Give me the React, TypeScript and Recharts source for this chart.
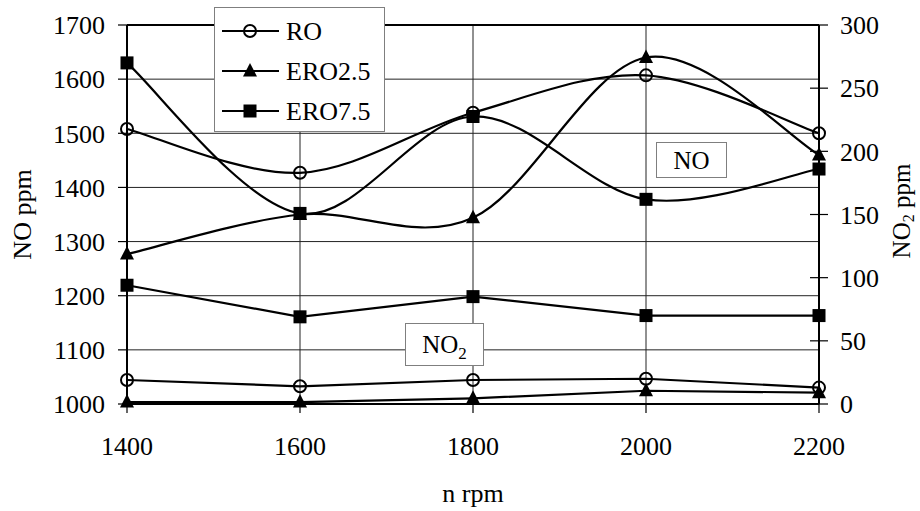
import React from 'react';
import { LineChart, Line, XAxis, YAxis, CartesianGrid, Legend, Label, ReferenceLine } from 'recharts';

const rpm = [1400, 1600, 1800, 2000, 2200];

// NO, ppm (left axis)
const noRO = [1508, 1427, 1538, 1607, 1500];
const noERO25 = [1277, 1350, 1344, 1640, 1460];
const noERO75 = [1630, 1352, 1531, 1378, 1434];

// NO2, ppm (right axis)
const no2RO = [19, 14, 19, 20, 13];
const no2ERO25 = [1.5, 1.5, 4.5, 10.5, 9];
const no2ERO75 = [94, 69, 85, 70, 70];

const noTicks = [1000, 1100, 1200, 1300, 1400, 1500, 1600, 1700];
const no2Ticks = [0, 50, 100, 150, 200, 250, 300];
const seriesNames = ['RO', 'ERO2.5', 'ERO7.5'];

const data = rpm.map((n, i) => ({
  n,
  noRO: noRO[i],
  noERO25: noERO25[i],
  noERO75: noERO75[i],
  no2RO: no2RO[i],
  no2ERO25: no2ERO25[i],
  no2ERO75: no2ERO75[i],
}));

const FONT = 'Liberation Serif, Times New Roman, serif';

// excel-like smoothed line (catmull-rom through the points)
const smooth = (context: any) => {
  let pts: number[][] = [];
  return {
    areaStart() {},
    areaEnd() {},
    lineStart() {
      pts = [];
    },
    point(x: number, y: number) {
      pts.push([+x, +y]);
    },
    lineEnd() {
      if (!pts.length) return;
      context.moveTo(pts[0][0], pts[0][1]);
      for (let i = 0; i < pts.length - 1; i++) {
        const p0 = pts[i - 1] || pts[i];
        const p1 = pts[i];
        const p2 = pts[i + 1];
        const p3 = pts[i + 2] || p2;
        context.bezierCurveTo(
          p1[0] + (p2[0] - p0[0]) / 6,
          p1[1] + (p2[1] - p0[1]) / 6,
          p2[0] - (p3[0] - p1[0]) / 6,
          p2[1] - (p3[1] - p1[1]) / 6,
          p2[0],
          p2[1]
        );
      }
    },
  };
};

const circleMark = (cx: number, cy: number, key?: any) => (
  <circle key={key} cx={cx} cy={cy} r={6} fill="none" stroke="#000" strokeWidth={2} />
);
const triMark = (cx: number, cy: number, key?: any) => (
  <path key={key} d={`M${cx},${cy - 8} L${cx + 7},${cy + 5.5} L${cx - 7},${cy + 5.5} Z`} fill="#000" />
);
const squareMark = (cx: number, cy: number, key?: any) => (
  <rect key={key} x={cx - 6.5} y={cy - 6.5} width={13} height={13} fill="#000" />
);
const marks = [circleMark, triMark, squareMark];

const dotOf = (i: number) => (p: any) => {
  if (p.cx == null || p.cy == null) return <g key={p.index} />;
  return marks[i](p.cx, p.cy, p.index);
};

const RightTick = (p: any) => (
  <g>
    <line x1={p.x - 9} x2={p.x + 9} y1={p.y} y2={p.y} stroke="#000" strokeWidth={1.2} />
    <text x={p.x + 21} y={p.y} dy="0.355em" fontSize={26} fill="#000" textAnchor="start">
      {p.payload.value}
    </text>
  </g>
);

const RightLabel = (p: any) => {
  const vb = p.viewBox || {};
  const cx = (vb.x ?? 819) + (vb.width ?? 101) - 19;
  const cy = 211;
  return (
    <text x={cx} y={cy} dy="0.355em" transform={`rotate(-90 ${cx} ${cy})`} textAnchor="middle" fontSize={25} fill="#000">
      NO<tspan fontSize={16} dy={4}>2</tspan>
      <tspan dy={-4}> ppm</tspan>
    </text>
  );
};

const LegendBox = () => (
  <div style={{ width: 171, height: 125, boxSizing: 'border-box', border: '1px solid #7f7f7f', background: '#fff' }}>
    <svg width={169} height={123} style={{ display: 'block' }}>
      {seriesNames.map((name, i) => {
        const y = 23 + 40 * i;
        return (
          <g key={name}>
            <line x1={7} x2={64} y1={y} y2={y} stroke="#000" strokeWidth={2.2} />
            {marks[i](35, y)}
            <text x={71} y={y} dy="0.355em" fontSize={26} fill="#000" fontFamily={FONT}>
              {name}
            </text>
          </g>
        );
      })}
    </svg>
  </div>
);

const boxStyle: React.CSSProperties = {
  position: 'absolute',
  boxSizing: 'border-box',
  border: '1px solid #7f7f7f',
  background: '#fff',
  fontSize: 25,
  color: '#000',
  display: 'flex',
  alignItems: 'center',
  justifyContent: 'center',
  lineHeight: 1,
};

export default function App() {
  return (
    <div style={{ position: 'absolute', left: 0, top: 0, width: 920, height: 511, background: '#fff', fontFamily: FONT }}>
      <LineChart width={920} height={511} data={data} margin={{ top: 25, right: 0, bottom: 0, left: 0 }}>
        <CartesianGrid yAxisId="no" stroke="#222" strokeWidth={1} />
        <XAxis
          dataKey="n"
          type="number"
          domain={[1400, 2200]}
          ticks={rpm}
          height={107}
          tickSize={9}
          tickMargin={24}
          axisLine={{ stroke: '#000', strokeWidth: 2 }}
          tickLine={{ stroke: '#000', strokeWidth: 1.2 }}
          tick={{ fill: '#000', fontSize: 26 }}
        >
          <Label value="n rpm" position="insideBottom" offset={9} fill="#000" fontSize={26} />
        </XAxis>
        <YAxis
          yAxisId="no"
          domain={[1000, 1700]}
          ticks={noTicks}
          width={127}
          tickSize={9}
          tickMargin={13}
          axisLine={{ stroke: '#000', strokeWidth: 2 }}
          tickLine={{ stroke: '#000', strokeWidth: 1.2 }}
          tick={{ fill: '#000', fontSize: 26 }}
        >
          <Label value="NO ppm" angle={-90} position="insideLeft" offset={22} fill="#000" fontSize={26} style={{ textAnchor: 'middle' }} />
        </YAxis>
        <YAxis
          yAxisId="no2"
          orientation="right"
          domain={[0, 300]}
          ticks={no2Ticks}
          width={101}
          tickSize={0}
          tickMargin={0}
          tickLine={false}
          axisLine={{ stroke: '#000', strokeWidth: 2 }}
          tick={RightTick}
        >
          <Label content={RightLabel} />
        </YAxis>
        <ReferenceLine yAxisId="no" y={1700} stroke="#000" strokeWidth={2} />
        <Legend
          layout="vertical"
          align="center"
          verticalAlign="middle"
          wrapperStyle={{ left: 214, top: 7, width: 171, height: 125 }}
          content={() => <LegendBox />}
        />

        <Line yAxisId="no2" dataKey="no2RO" type="linear" stroke="#000" strokeWidth={2.2} dot={dotOf(0)} activeDot={false} legendType="none" isAnimationActive={false} />
        <Line yAxisId="no2" dataKey="no2ERO25" type="linear" stroke="#000" strokeWidth={2.2} dot={dotOf(1)} activeDot={false} legendType="none" isAnimationActive={false} />
        <Line yAxisId="no2" dataKey="no2ERO75" type="linear" stroke="#000" strokeWidth={2.2} dot={dotOf(2)} activeDot={false} legendType="none" isAnimationActive={false} />

        <Line yAxisId="no" dataKey="noRO" name="RO" type={smooth as any} stroke="#000" strokeWidth={2.2} dot={dotOf(0)} activeDot={false} isAnimationActive={false} />
        <Line yAxisId="no" dataKey="noERO25" name="ERO2.5" type={smooth as any} stroke="#000" strokeWidth={2.2} dot={dotOf(1)} activeDot={false} isAnimationActive={false} />
        <Line yAxisId="no" dataKey="noERO75" name="ERO7.5" type={smooth as any} stroke="#000" strokeWidth={2.2} dot={dotOf(2)} activeDot={false} isAnimationActive={false} />
      </LineChart>

      <div style={{ ...boxStyle, left: 656, top: 142, width: 71, height: 36 }}>NO</div>
      <div style={{ ...boxStyle, left: 405, top: 323, width: 79, height: 43 }}>
        <span>
          NO<sub style={{ fontSize: 17, verticalAlign: 'baseline', position: 'relative', top: 6 }}>2</sub>
        </span>
      </div>
    </div>
  );
}
